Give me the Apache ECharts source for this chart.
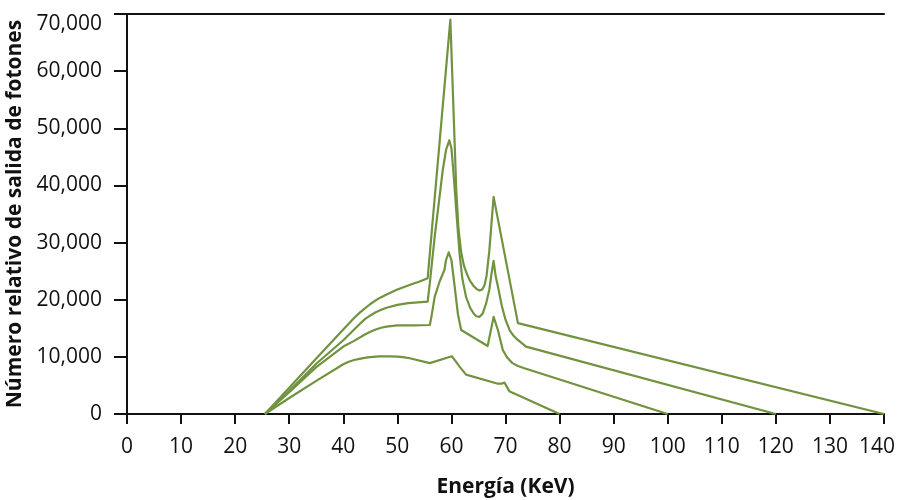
<!DOCTYPE html>
<html>
<head>
<meta charset="utf-8">
<script src="https://cdn.jsdelivr.net/npm/echarts@6/dist/echarts.min.js"></script>
<style>
  html, body { margin: 0; padding: 0; background: #ffffff; }
  #chart { width: 898px; height: 500px; }
</style>
</head>
<body>
<div id="chart"></div>
<script>
// X-ray emission spectra for four tube voltages (keV vs. relative photon output)
const energyTicks = [0, 10, 20, 30, 40, 50, 60, 70, 80, 90, 100, 110, 120, 130, 140];
const countTicks = [0, 10000, 20000, 30000, 40000, 50000, 60000, 70000];

// 140 kVp
const energy140 = [25.5, 30, 35, 40, 41, 42, 43, 44, 45, 46, 47, 48, 49, 50, 51, 52, 53, 54, 55.6, 59.8, 60.5, 60.9, 61.3, 61.8, 62.3, 62.9, 63.5, 64.1, 64.7, 65.2, 65.7, 66.1, 66.5, 67.0, 67.8, 72.3, 140];
const photons140 = [0, 4600, 9700, 14800, 15800, 16800, 17700, 18500, 19250, 19900, 20450, 20900, 21350, 21800, 22150, 22500, 22850, 23150, 23750, 69000, 50000, 39000, 32500, 28300, 26000, 24400, 23200, 22400, 21850, 21600, 21800, 22500, 24200, 28500, 38000, 15900, 0];

// 120 kVp
const energy120 = [25.5, 30, 35, 40, 42, 43, 44, 45, 46, 47, 48, 50, 52, 55.6, 56.0, 56.9, 57.8, 58.4, 59.0, 59.6, 60.0, 60.4, 60.9, 61.5, 62.0, 62.7, 63.5, 64.1, 64.6, 65.2, 65.8, 66.4, 67.0, 67.4, 67.8, 68.2, 68.6, 69.3, 70.0, 70.8, 71.4, 72.0, 73.8, 120];
const photons120 = [0, 4000, 8800, 12900, 14800, 15700, 16600, 17250, 17800, 18250, 18600, 19100, 19400, 19650, 22870, 31000, 38000, 42700, 46200, 47900, 46500, 42000, 35500, 28100, 23800, 20500, 18500, 17600, 17100, 17000, 17600, 19300, 21700, 24500, 26800, 24000, 22300, 19000, 16500, 14600, 13800, 13200, 11800, 0];

// 100 kVp
const energy100 = [25.5, 30, 35, 40, 42, 44, 45, 46, 47, 48, 50, 53, 56.0, 56.3, 56.9, 57.8, 58.7, 59.0, 59.5, 60.0, 60.6, 61.2, 61.8, 66.7, 67.8, 68.6, 68.9, 69.5, 70.3, 71.3, 72.3, 73.5, 100];
const photons100 = [0, 3800, 8200, 11800, 12800, 13900, 14400, 14800, 15100, 15300, 15500, 15500, 15575, 17000, 20500, 23150, 25200, 26950, 28300, 26950, 22300, 17500, 14700, 11900, 17000, 14700, 13500, 11200, 9900, 8900, 8400, 8000, 0];

// 80 kVp
const energy80 = [25.5, 30, 35, 40, 41, 42, 43, 43.7, 44.5, 45.5, 46.5, 47.3, 48.5, 50, 51, 52.3, 56.0, 60.1, 60.8, 61.5, 62.7, 68.6, 69.3, 69.8, 70.7, 80];
const photons80 = [0, 2800, 5800, 8700, 9150, 9450, 9650, 9780, 9900, 10000, 10070, 10100, 10100, 10050, 9950, 9750, 8900, 10100, 9200, 8300, 6900, 5300, 5300, 5500, 4000, 0];

const spectra = [
  { name: '140 kVp', x: energy140, y: photons140 },
  { name: '120 kVp', x: energy120, y: photons120 },
  { name: '100 kVp', x: energy100, y: photons100 },
  { name: '80 kVp', x: energy80, y: photons80 }
];

const ink = '#111111';
const green = '#719340';
const labelFont = '"Open Sans", "Noto Sans", sans-serif';
const lastEnergy = energyTicks[energyTicks.length - 1];

const chart = echarts.init(document.getElementById('chart'), null, { renderer: 'canvas' });

chart.setOption({
  animation: false,
  backgroundColor: '#ffffff',
  grid: { left: 127, right: 14, top: 14, bottom: 86, containLabel: false, outerBoundsMode: 'none' },
  xAxis: [
    {
      type: 'value',
      min: energyTicks[0],
      max: lastEnergy,
      interval: energyTicks[1] - energyTicks[0],
      position: 'bottom',
      name: 'Energía (KeV)',
      nameLocation: 'middle',
      nameGap: 63,
      nameTextStyle: { fontFamily: labelFont, fontWeight: 'bold', fontSize: 21, color: ink },
      axisLine: { show: true, onZero: false, lineStyle: { color: ink, width: 2 } },
      axisTick: { show: true, length: 10, lineStyle: { color: ink, width: 2 } },
      axisLabel: {
        show: true,
        margin: 23,
        fontFamily: labelFont,
        fontSize: 21,
        color: ink,
        // the last label is nudged inward so it stays inside the canvas
        formatter: v => (v === lastEnergy ? '{end|' + v + '}' : String(v)),
        rich: {
          end: { fontFamily: labelFont, fontSize: 21, color: ink, padding: [0, 14, 0, 0] }
        }
      },
      splitLine: { show: false }
    },
    {
      type: 'value',
      min: energyTicks[0],
      max: lastEnergy,
      position: 'top',
      axisLine: { show: true, onZero: false, lineStyle: { color: ink, width: 2 } },
      axisTick: { show: false },
      axisLabel: { show: false },
      splitLine: { show: false }
    }
  ],
  yAxis: {
    type: 'value',
    min: countTicks[0],
    max: countTicks[countTicks.length - 1],
    interval: countTicks[1] - countTicks[0],
    name: 'Número relativo de salida de fotones',
    nameLocation: 'middle',
    nameGap: 88,
    nameTextStyle: { fontFamily: labelFont, fontWeight: 'bold', fontSize: 21, color: ink },
    axisLine: { show: true, onZero: false, lineStyle: { color: ink, width: 2 } },
    axisTick: { show: true, length: 13, lineStyle: { color: ink, width: 2 } },
    axisLabel: {
      show: true,
      margin: 25,
      fontFamily: labelFont,
      fontSize: 21,
      color: ink,
      verticalAlignMaxLabel: 'top',
      formatter: v => v.toLocaleString('en-US')
    },
    splitLine: { show: false }
  },
  series: spectra.map(s => ({
    name: s.name,
    type: 'line',
    xAxisIndex: 0,
    showSymbol: false,
    symbol: 'none',
    smooth: false,
    lineStyle: { color: green, width: 2.2, join: 'round' },
    data: s.x.map((e, i) => [e, s.y[i]])
  }))
});
</script>
</body>
</html>
